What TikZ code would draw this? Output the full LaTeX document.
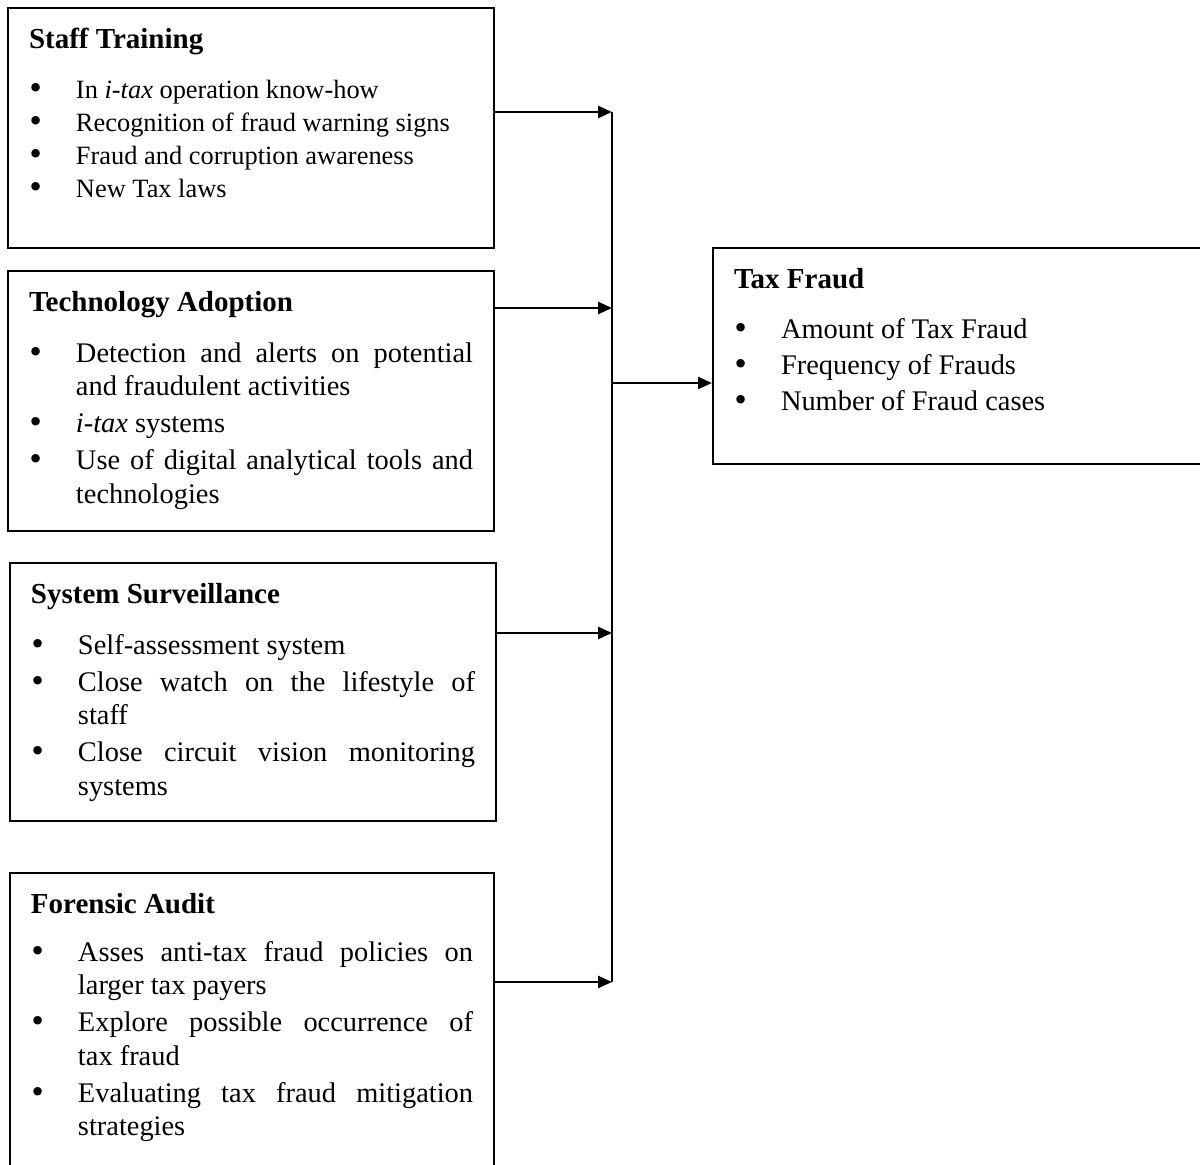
\documentclass[tikz,border=0pt]{standalone}
\usepackage{fontspec}
\setmainfont{Liberation Serif}
\newfontfamily\bulfont{DejaVu Sans}
\usetikzlibrary{arrows.meta}
\newcommand{\btitle}[1]{{\fontsize{14.5}{16.75}\selectfont\bfseries\rule{0pt}{10pt}#1\par}\vspace{7pt}}
\newcommand{\bitem}[1]{\par\hangindent=23.5pt\hangafter=1\noindent\makebox[23.5pt][l]{\hspace{-0.6pt}{\bulfont\fontsize{14.5}{0}\selectfont\textbullet}}#1}
\begin{document}
\begin{tikzpicture}[x=0.5pt,y=-0.5pt,
   box/.style={draw,line width=1pt,anchor=north west,inner xsep=10.5pt,inner ysep=10pt},
   arr/.style={line width=1.3pt,-{Triangle[length=7pt,width=6pt]}}]
   \useasboundingbox (0,0) rectangle (1200,1165);
   \clip (0,0) rectangle (1200,1165);
   \node[box] (st) at (7,7) {\parbox[t][100pt][t]{222pt}{\fontsize{13.2}{16.5}\selectfont
      \btitle{Staff Training}\vspace{1.5pt}
      \bitem{In \textit{i-tax} operation know-how}
      \bitem{Recognition of fraud warning signs}
      \bitem{Fraud and corruption awareness}
      \bitem{New Tax laws}}};
   \node[box] (ta) at (7,270) {\parbox[t][110pt][t]{222pt}{\fontsize{14.2}{16.75}\selectfont\setlength{\parskip}{1.75pt}
      \btitle{Technology Adoption}
      \bitem{Detection and alerts on potential\linebreak and fraudulent activities}
      \bitem{\textit{i-tax} systems}
      \bitem{Use of digital analytical tools and\linebreak technologies}}};
   \node[box] (ss) at (9,562) {\parbox[t][109pt][t]{222pt}{\fontsize{14.2}{16.75}\selectfont\setlength{\parskip}{1.75pt}
      \btitle{System Surveillance}
      \bitem{Self-assessment system}
      \bitem{Close watch on the lifestyle of\linebreak staff}
      \bitem{Close circuit vision monitoring\linebreak systems}}};
   \node[box] (fa) at (9,872) {\parbox[t][150pt][t]{221pt}{\fontsize{14.2}{16.75}\selectfont\setlength{\parskip}{1.75pt}
      \btitle{Forensic Audit}\vspace{-1.5pt}
      \bitem{Asses anti-tax fraud policies on\linebreak larger tax payers}
      \bitem{Explore possible occurrence of\linebreak tax fraud}
      \bitem{Evaluating tax fraud mitigation\linebreak strategies}}};
   \node[box] (tf) at (712,247) {\parbox[t][88pt][t]{300pt}{\fontsize{14.2}{16.75}\selectfont\setlength{\parskip}{1.25pt}
      \btitle{Tax Fraud}
      \bitem{Amount of Tax Fraud}
      \bitem{Frequency of Frauds}
      \bitem{Number of Fraud cases}}};
   \coordinate (b1) at (612,112);
   \coordinate (b2) at (612,308);
   \coordinate (b3) at (612,633);
   \coordinate (b4) at (612,982);
   \coordinate (bm) at (612,383);
   \draw[line width=1pt] (b1) -- (b4);
   \draw[arr] (st.east |- b1) -- (b1);
   \draw[arr] (ta.east |- b2) -- (b2);
   \draw[arr] (ss.east |- b3) -- (b3);
   \draw[arr] (fa.east |- b4) -- (b4);
   \draw[arr] (bm) -- (tf.west |- bm);
\end{tikzpicture}
\end{document}
